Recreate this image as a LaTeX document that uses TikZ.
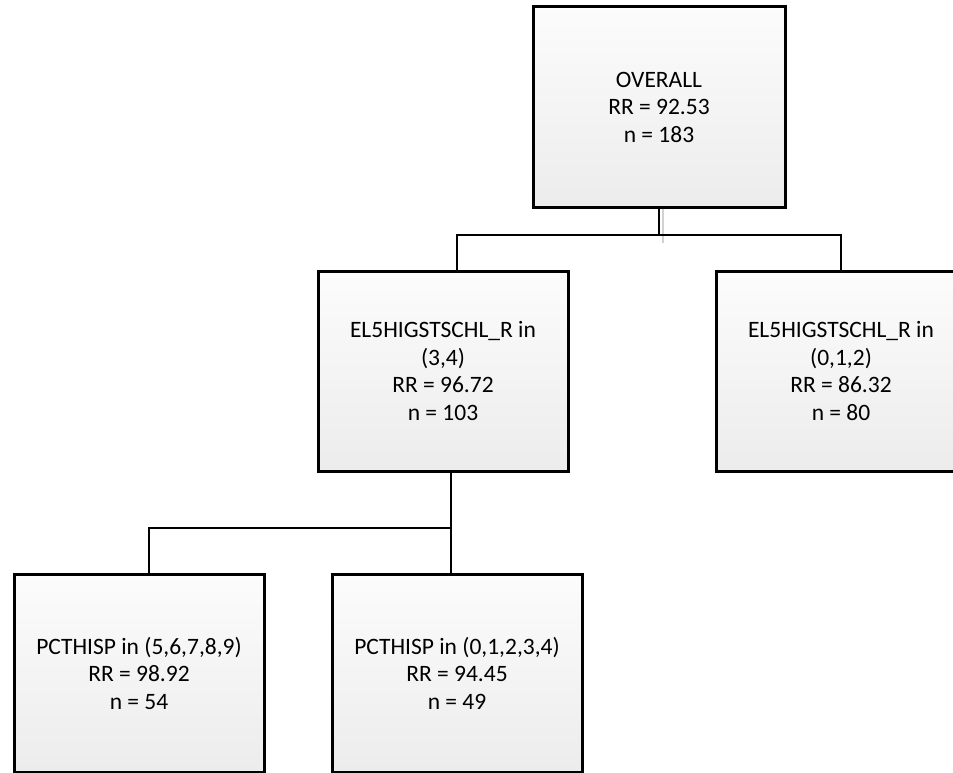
\documentclass[tikz,border=0pt]{standalone}
\usepackage{fontspec}
\setmainfont{Carlito}
\definecolor{boxbottom}{RGB}{236,236,236}
\definecolor{boxtop}{RGB}{252,252,252}
\tikzset{
  treebox/.style={draw=black, line width=3pt, rectangle, inner sep=0pt,
    minimum width=250pt, minimum height=200pt, align=center,
    top color=boxtop, bottom color=boxbottom,
    font=\fontsize{23.5}{27.5}\selectfont},
  link/.style={draw=black, line width=2.8pt},
}
\begin{document}
\begin{tikzpicture}[x=1pt, y=-1pt]
  \useasboundingbox (0,0) rectangle (953,773);
  \clip (0,0) rectangle (953,773);
  \fill[white] (0,0) rectangle (953,773);

  % tree nodes
  \node[treebox, minimum width=252pt] (top) at (659,107) {OVERALL\\RR = 92.53\\n = 183};
  \node[treebox] (ml) at (443,371) {EL5HIGSTSCHL\_R in\\(3,4)\\RR = 96.72\\n = 103};
  \node[treebox] (mr) at (841,371) {EL5HIGSTSCHL\_R in\\(0,1,2)\\RR = 86.32\\n = 80};
  \node[treebox, minimum height=198pt] (bl) at (139,673) {PCTHISP in (5,6,7,8,9)\\RR = 98.92\\n = 54};
  \node[treebox, minimum height=198pt] (br) at (457,673) {PCTHISP in (0,1,2,3,4)\\RR = 94.45\\n = 49};

  % junction points of the elbow connectors
  \coordinate (j1) at (659,235);
  \coordinate (j2) at (451,528);

  % first split
  \draw[gray!35, line width=1.5pt] ([xshift=4]top.south) -- ++(0,34);
  \draw[link] (top.south) -- (j1);
  \draw[link] ([xshift=14]ml.north) |- (j1) -| (mr.north);

  % second split
  \draw[link] ([xshift=8]ml.south) -- ([xshift=-6]br.north);
  \draw[link] (j2) -| ([xshift=10]bl.north);
\end{tikzpicture}
\end{document}
